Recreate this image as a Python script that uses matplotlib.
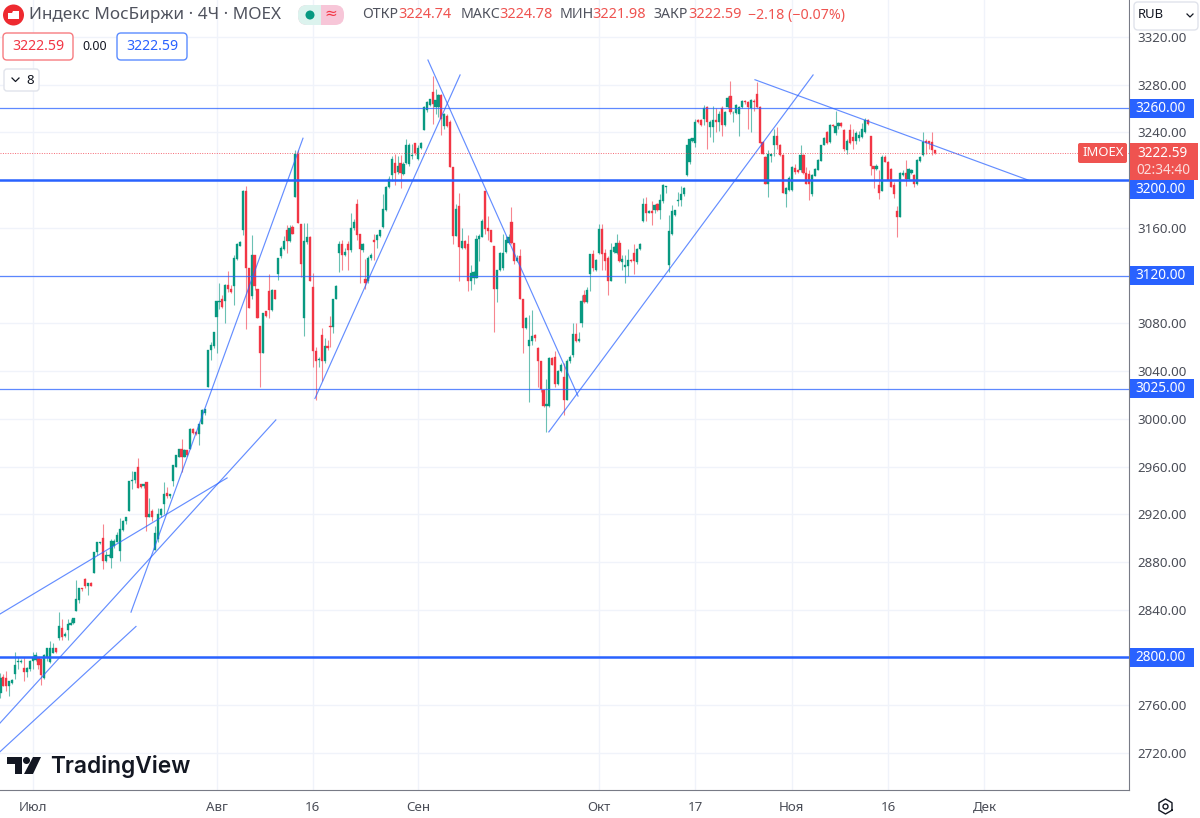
import numpy as np
import matplotlib
matplotlib.use("Agg")
import matplotlib.pyplot as plt
from matplotlib.patches import FancyBboxPatch, Rectangle, Circle, Polygon

plt.rcParams['font.family'] = ['Noto Sans', 'DejaVu Sans']

opens = [
    2770, 2784, 2783, 2776, 2779, 2786, 2796, 2796, 2791, 2788,
    2790, 2797, 2798, 2800, 2799, 2783, 2800, 2796, 2804, 2808,
    2816, 2825, 2818, 2823, 2827, 2829, 2839, 2848, 2858, 2866,
    2860, 2862, 2871, 2888, 2896, 2900, 2881, 2885, 2883, 2893,
    2897, 2889, 2907, 2914, 2923, 2948, 2949, 2960, 2945, 2944,
    2947, 2918, 2923, 2890, 2899, 2919, 2929, 2938, 2935, 2948,
    2960, 2968, 2975, 2968, 2974, 2975, 2991, 2989, 2987, 2996,
    3005, 3027, 3058, 3061, 3085, 3098, 3100, 3099, 3112, 3109,
    3111, 3134, 3145, 3158, 3191, 3126, 3103, 3137, 3109, 3078,
    3055, 3090, 3107, 3091, 3108, 3121, 3136, 3142, 3158, 3149,
    3161, 3186, 3222, 3163, 3084, 3148, 3152, 3110, 3057, 3049,
    3070, 3048, 3061, 3078, 3077, 3100, 3139, 3146, 3137, 3146,
    3141, 3160, 3180, 3155, 3141, 3117, 3115, 3135, 3150, 3150,
    3153, 3161, 3175, 3194, 3204, 3214, 3207, 3214, 3205, 3214,
    3213, 3220, 3231, 3218, 3227, 3242, 3259, 3263, 3274, 3261,
    3261, 3271, 3245, 3254, 3249, 3211, 3153, 3178, 3143, 3149,
    3146, 3115, 3118, 3118, 3151, 3152, 3191, 3160, 3158, 3145,
    3109, 3125, 3126, 3140, 3147, 3165, 3147, 3132, 3136, 3100,
    3076, 3061, 3065, 3070, 3059, 3048, 3024, 3011, 3011, 3051,
    3052, 3029, 3040, 3035, 3016, 3048, 3053, 3071, 3065, 3080,
    3104, 3098, 3121, 3138, 3125, 3139, 3159, 3139, 3135, 3115,
    3140, 3139, 3147, 3131, 3127, 3128, 3133, 3139, 3131, 3142,
    3166, 3180, 3172, 3174, 3175, 3180, 3175, 3182, 3194, 3129,
    3155, 3171, 3182, 3183, 3188, 3204, 3215, 3233, 3231, 3250,
    3250, 3251, 3261, 3244, 3244, 3250, 3249, 3260, 3246, 3261,
    3270, 3256, 3256, 3255, 3261, 3266, 3265, 3260, 3266, 3272,
    3261, 3232, 3219, 3197, 3220, 3229, 3237, 3229, 3221, 3188,
    3192, 3192, 3210, 3208, 3208, 3221, 3206, 3205, 3188, 3203,
    3208, 3216, 3229, 3240, 3232, 3246, 3239, 3245, 3248, 3242,
    3225, 3242, 3236, 3233, 3235, 3236, 3240, 3250, 3237, 3212,
    3209, 3196, 3191, 3219, 3215, 3209, 3196, 3174, 3169, 3204,
    3206, 3201, 3206, 3204, 3197, 3216, 3221, 3233, 3233, 3232,
    3224.74,
]
highs = [
    2787, 2786, 2789, 2780, 2782, 2805, 2800, 2799, 2800, 2792,
    2798, 2805, 2805, 2800, 2799, 2803, 2808, 2814, 2812, 2808,
    2838, 2832, 2821, 2832, 2832, 2833, 2865, 2858, 2858, 2867,
    2862, 2863, 2888, 2897, 2897, 2912, 2889, 2887, 2899, 2899,
    2905, 2917, 2915, 2918, 2948, 2956, 2955, 2967, 2945, 2945,
    2947, 2934, 2924, 2910, 2925, 2925, 2947, 2943, 2937, 2961,
    2970, 2975, 2983, 2975, 2974, 2992, 2992, 2990, 2996, 3008,
    3008, 3058, 3064, 3073, 3099, 3114, 3104, 3113, 3124, 3112,
    3137, 3147, 3149, 3192, 3195, 3126, 3154, 3137, 3109, 3078,
    3089, 3090, 3121, 3109, 3108, 3135, 3145, 3153, 3162, 3162,
    3162, 3225, 3225, 3163, 3164, 3164, 3153, 3122, 3060, 3052,
    3076, 3068, 3066, 3086, 3100, 3112, 3149, 3150, 3143, 3149,
    3172, 3167, 3184, 3155, 3147, 3134, 3136, 3139, 3155, 3155,
    3158, 3188, 3195, 3203, 3220, 3222, 3220, 3221, 3215, 3234,
    3231, 3230, 3231, 3229, 3232, 3262, 3266, 3268, 3287, 3276,
    3272, 3272, 3256, 3255, 3250, 3211, 3180, 3189, 3160, 3150,
    3154, 3129, 3124, 3154, 3155, 3167, 3191, 3170, 3158, 3145,
    3125, 3140, 3155, 3153, 3155, 3177, 3147, 3137, 3142, 3100,
    3085, 3087, 3091, 3071, 3060, 3048, 3024, 3033, 3052, 3052,
    3057, 3041, 3047, 3047, 3050, 3053, 3080, 3080, 3073, 3104,
    3108, 3110, 3138, 3141, 3134, 3163, 3163, 3142, 3136, 3147,
    3145, 3155, 3150, 3137, 3137, 3142, 3134, 3146, 3143, 3147,
    3185, 3186, 3175, 3182, 3180, 3181, 3188, 3197, 3195, 3171,
    3179, 3175, 3190, 3195, 3194, 3229, 3235, 3235, 3251, 3251,
    3251, 3263, 3262, 3250, 3262, 3260, 3258, 3262, 3258, 3270,
    3283, 3258, 3264, 3262, 3267, 3267, 3266, 3268, 3268, 3282,
    3262, 3233, 3220, 3225, 3222, 3243, 3244, 3230, 3222, 3194,
    3203, 3212, 3213, 3209, 3229, 3222, 3211, 3208, 3205, 3210,
    3218, 3229, 3236, 3241, 3247, 3247, 3258, 3249, 3249, 3243,
    3234, 3247, 3243, 3241, 3241, 3248, 3252, 3251, 3237, 3212,
    3213, 3208, 3221, 3221, 3216, 3210, 3198, 3178, 3207, 3208,
    3217, 3210, 3209, 3205, 3218, 3220, 3240, 3234, 3233, 3240,
    3224.78,
]
lows = [
    2766, 2776, 2772, 2768, 2778, 2782, 2790, 2795, 2780, 2784,
    2789, 2790, 2797, 2790, 2777, 2782, 2797, 2795, 2804, 2804,
    2815, 2815, 2817, 2815, 2827, 2828, 2839, 2846, 2856, 2858,
    2852, 2860, 2871, 2886, 2895, 2874, 2880, 2884, 2875, 2892,
    2897, 2881, 2906, 2912, 2923, 2941, 2946, 2942, 2942, 2942,
    2906, 2918, 2914, 2890, 2897, 2918, 2920, 2934, 2934, 2944,
    2960, 2968, 2955, 2968, 2969, 2975, 2987, 2986, 2978, 2996,
    3003, 3027, 3049, 3059, 3055, 3092, 3093, 3080, 3106, 3105,
    3095, 3133, 3145, 3154, 3075, 3093, 3100, 3108, 3084, 3027,
    3055, 3085, 3084, 3090, 3100, 3116, 3135, 3141, 3139, 3148,
    3155, 3186, 3164, 3119, 3069, 3146, 3115, 3043, 3016, 3043,
    3032, 3047, 3058, 3060, 3072, 3100, 3123, 3125, 3136, 3125,
    3140, 3158, 3150, 3114, 3140, 3109, 3114, 3133, 3133, 3143,
    3152, 3160, 3174, 3193, 3199, 3196, 3205, 3193, 3204, 3213,
    3212, 3218, 3221, 3217, 3226, 3242, 3257, 3262, 3247, 3255,
    3253, 3238, 3243, 3244, 3211, 3146, 3153, 3115, 3142, 3142,
    3107, 3108, 3113, 3118, 3132, 3152, 3155, 3150, 3148, 3073,
    3098, 3124, 3125, 3139, 3146, 3146, 3130, 3131, 3100, 3055,
    3075, 3014, 3062, 3065, 3027, 3022, 3010, 2989, 3010, 3045,
    3027, 3028, 3039, 3003, 3016, 3047, 3052, 3064, 3064, 3077,
    3097, 3097, 3107, 3124, 3124, 3138, 3125, 3125, 3104, 3115,
    3139, 3138, 3131, 3125, 3114, 3120, 3131, 3121, 3130, 3141,
    3165, 3166, 3172, 3162, 3172, 3174, 3167, 3181, 3189, 3123,
    3154, 3170, 3178, 3178, 3187, 3203, 3213, 3232, 3228, 3248,
    3245, 3246, 3226, 3236, 3232, 3240, 3241, 3237, 3245, 3260,
    3255, 3249, 3255, 3237, 3260, 3264, 3243, 3240, 3258, 3260,
    3231, 3222, 3197, 3186, 3215, 3220, 3226, 3220, 3189, 3177,
    3191, 3191, 3205, 3206, 3207, 3205, 3197, 3183, 3187, 3203,
    3208, 3216, 3229, 3230, 3231, 3244, 3238, 3243, 3244, 3224,
    3222, 3230, 3226, 3230, 3233, 3235, 3239, 3246, 3204, 3193,
    3208, 3184, 3191, 3215, 3200, 3194, 3185, 3152, 3169, 3203,
    3195, 3200, 3205, 3194, 3196, 3215, 3220, 3222, 3226, 3221,
    3221.98,
]
closes = [
    2783, 2776, 2776, 2780, 2781, 2794, 2797, 2797, 2788, 2791,
    2797, 2800, 2802, 2794, 2785, 2802, 2808, 2808, 2808, 2805,
    2826, 2817, 2820, 2828, 2829, 2833, 2849, 2858, 2857, 2860,
    2862, 2860, 2888, 2897, 2897, 2881, 2886, 2886, 2898, 2898,
    2903, 2908, 2914, 2918, 2948, 2949, 2955, 2942, 2943, 2945,
    2918, 2920, 2918, 2904, 2920, 2924, 2937, 2935, 2937, 2961,
    2970, 2975, 2968, 2974, 2970, 2991, 2988, 2987, 2996, 3007,
    3008, 3058, 3062, 3073, 3099, 3099, 3094, 3112, 3109, 3106,
    3135, 3146, 3148, 3191, 3126, 3093, 3137, 3111, 3084, 3055,
    3089, 3086, 3091, 3108, 3100, 3135, 3143, 3149, 3149, 3160,
    3155, 3222, 3164, 3130, 3149, 3152, 3115, 3057, 3048, 3050,
    3048, 3061, 3059, 3077, 3100, 3111, 3146, 3137, 3140, 3141,
    3160, 3165, 3154, 3142, 3146, 3114, 3135, 3137, 3148, 3154,
    3158, 3176, 3194, 3201, 3218, 3206, 3212, 3206, 3213, 3229,
    3229, 3221, 3223, 3227, 3231, 3261, 3265, 3268, 3264, 3267,
    3271, 3251, 3255, 3245, 3211, 3153, 3176, 3144, 3149, 3143,
    3115, 3122, 3123, 3151, 3153, 3166, 3159, 3157, 3148, 3109,
    3125, 3139, 3139, 3150, 3152, 3147, 3132, 3135, 3100, 3076,
    3084, 3066, 3069, 3068, 3048, 3025, 3011, 3012, 3051, 3045,
    3029, 3040, 3045, 3016, 3048, 3052, 3071, 3065, 3067, 3099,
    3098, 3108, 3138, 3126, 3133, 3159, 3138, 3132, 3115, 3141,
    3144, 3147, 3132, 3134, 3129, 3133, 3132, 3132, 3142, 3146,
    3180, 3172, 3174, 3172, 3179, 3175, 3183, 3196, 3195, 3157,
    3174, 3175, 3183, 3188, 3193, 3229, 3234, 3235, 3249, 3249,
    3246, 3260, 3249, 3249, 3250, 3249, 3255, 3246, 3257, 3269,
    3257, 3256, 3263, 3261, 3266, 3265, 3261, 3267, 3265, 3261,
    3231, 3222, 3197, 3222, 3222, 3237, 3229, 3221, 3189, 3193,
    3202, 3211, 3207, 3207, 3221, 3206, 3197, 3197, 3204, 3209,
    3217, 3229, 3235, 3231, 3246, 3245, 3245, 3248, 3245, 3226,
    3233, 3231, 3233, 3239, 3238, 3243, 3250, 3247, 3212, 3209,
    3212, 3189, 3219, 3215, 3200, 3194, 3188, 3169, 3206, 3206,
    3201, 3209, 3208, 3197, 3217, 3219, 3232, 3231, 3231, 3225,
    3222.59,
]

date_ticks = [11, 74, 107, 143, 205, 238, 271, 304, 337]
date_labels = ["Июл", "Авг", "16", "Сен", "Окт", "17", "Ноя", "16", "Дек"]
price_ticks = list(range(2720, 3321, 40))
hidden_ticks = [3200, 3120, 2800]

thick_levels = [3200, 2800]
thin_levels = [3260, 3120, 3025]
level_tags = [3260, 3200, 3120, 3025, 2800]

trend_x = [[44.7, 103.6], [-0.2, 77.6], [-0.2, 94.3], [-0.2, 46.4],
           [107.7, 157.4], [146.4, 197.8], [187.8, 278.3], [258.4, 351.9]]
trend_y = [[2838, 3235], [2836.4, 2950.4], [2745, 2999], [2721, 2826],
           [3017, 3288], [3300.5, 3019], [2989, 3288], [3284, 3200]]

last_price = closes[-1]

GREEN = '#089981'
RED = '#f23645'
BLUE = '#2962ff'
TEXT = '#4a4d57'

fig = plt.figure(figsize=(12, 8.18), dpi=100)
ax = fig.add_axes([0, 28 / 818, 1129 / 1200, 790 / 818])

o = np.array(opens)
h = np.array(highs)
l = np.array(lows)
c = np.array(closes)
x = np.arange(len(c))
up = c >= o
colors = np.where(up, GREEN, RED)

ax.set_xlim(-0.17, 386.5)
ax.set_ylim(2689.0, 3350.8)
ax.set_xticks(date_ticks)
ax.set_xticklabels(date_labels)
ax.set_yticks(price_ticks)
ax.set_yticklabels(["" if p in hidden_ticks else f"{p:.2f}" for p in price_ticks])
ax.yaxis.tick_right()
ax.tick_params(axis='both', length=0, labelsize=9.6, labelcolor=TEXT)
ax.tick_params(axis='y', pad=6)
ax.tick_params(axis='x', pad=8)
ax.grid(True, color='#f0f3fa', linewidth=1.0)
ax.set_axisbelow(True)
for side in ['top', 'left']:
    ax.spines[side].set_visible(False)
ax.spines['right'].set_color('#787b86')
ax.spines['bottom'].set_color('#787b86')

ax.vlines(x, l, h, colors=colors, linewidth=0.8, alpha=0.6, zorder=2)
ax.bar(x, np.abs(c - o), bottom=np.minimum(o, c), width=0.74, color=colors,
       edgecolor=colors, linewidth=0.25, zorder=3)

for level in thin_levels:
    ax.axhline(level, color=BLUE, linewidth=0.9, alpha=0.75, zorder=4)
for level in thick_levels:
    ax.axhline(level, color=BLUE, linewidth=1.8, zorder=4)
for tx, ty in zip(trend_x, trend_y):
    ax.plot(tx, ty, color=BLUE, linewidth=0.85, alpha=0.72, zorder=4)
ax.axhline(last_price, color=RED, linewidth=0.7, linestyle=(0, (1, 1.5)), alpha=0.75, zorder=4)

# interface parts around the chart, in screen pixels
ui = fig.add_axes([0, 0, 1, 1], facecolor='none')
ui.set_xlim(0, 1200)
ui.set_ylim(818, 0)
ui.axis('off')


def box(x0, y0, x1, y1, face, edge='none', r=3, lw=1.0):
    ui.add_patch(FancyBboxPatch((x0 + r, y0 + r), x1 - x0 - 2 * r, y1 - y0 - 2 * r,
                                boxstyle=f"round,pad={r},rounding_size={r}",
                                facecolor=face, edgecolor=edge, linewidth=lw))


# price tags on the right
for level in level_tags:
    yy = 818 - ax.transData.transform((0, level))[1]
    # the 3200 tag is pushed under the last price tag
    top = yy if level == 3200 else yy - 9.5
    ui.add_patch(Rectangle((1129.5, top), 64.5, 19, facecolor=BLUE, edgecolor='none'))
    ui.text(1161, top + 9.2, f"{level:.2f}", color='white', fontsize=9.8, fontweight='bold',
            ha='center', va='center')
ui.add_patch(Rectangle((1129.5, 143), 68, 37, facecolor='#ef5350', edgecolor='none'))
ui.text(1163, 153.5, f"{last_price:.2f}", color='white', fontsize=9.8, fontweight='bold',
        ha='center', va='center')
ui.text(1163, 170, "02:34:40", color='#fbdcdc', fontsize=9.8, ha='center', va='center')
box(1078, 143, 1127, 163, '#ef5350', r=2)
ui.text(1103, 153, "IMOEX", color='white', fontsize=9.4, fontweight='medium', ha='center', va='center')

# currency button, the top price label runs under it
ui.add_patch(Rectangle((1130, 0), 70, 33, facecolor='white', edgecolor='none'))
box(1134, 2, 1198, 30, 'white', edge='#e0e3eb', r=4)
ui.text(1138, 15, "RUB", color='#131722', fontsize=9.4, va='center')
ui.plot([1187, 1190, 1193], [14, 17, 14], color='#131722', linewidth=0.9)

# header row
ui.add_patch(Circle((13.5, 15), 10.5, facecolor='#ee2a30', edgecolor='none'))
ui.add_patch(Polygon([(8, 13), (12, 13), (13, 11), (19, 11), (19, 19), (8, 19)], facecolor='white'))
ui.text(29, 15, "Индекс МосБиржи · 4Ч · MOEX", color='#50535e', fontsize=12.3, va='center')
box(298, 5, 344, 25, '#f7c6d8', r=9)
box(298, 5, 330, 25, '#dcf3ee', r=9)
ui.add_patch(Rectangle((321, 5), 9, 20, facecolor='#f7c6d8', edgecolor='none'))
ui.add_patch(Circle((310, 15), 4.5, facecolor=GREEN, edgecolor='none'))
ui.text(331, 14.5, "≈", color='#f23645', fontsize=11, ha='center', va='center')

header_labels = ["ОТКР", "МАКС", "МИН", "ЗАКР"]
header_values = ["3224.74", "3224.78", "3221.98", "3222.59"]
label_x = [362, 461, 560, 653]
value_x = [398, 499.5, 592.5, 688]
for name, val, lx, vx in zip(header_labels, header_values, label_x, value_x):
    ui.text(lx, 15, name, color='#50535e', fontsize=10.2, va='center')
    ui.text(vx, 15, val, color='#ef5350', fontsize=10.4, va='center')
ui.text(748, 15, "−2.18 (−0.07%)", color='#ef5350', fontsize=10.2, va='center')

box(3, 33, 73, 60, 'white', edge='#f77c80', r=4)
ui.text(38, 47, "3222.59", color='#f23645', fontsize=10.2, ha='center', va='center')
ui.text(95, 47, "0.00", color='#131722', fontsize=9, ha='center', va='center')
box(117, 33, 187, 60, 'white', edge='#5b8cff', r=4)
ui.text(152, 47, "3222.59", color=BLUE, fontsize=10.2, ha='center', va='center')
box(4, 69, 39, 91, 'white', edge='#e0e3eb', r=3)
ui.plot([12, 15.5, 19], [78, 81.5, 78], color='#131722', linewidth=0.9)
ui.text(30, 80, "8", color='#131722', fontsize=9.6, ha='center', va='center')

# watermark
ui.add_patch(Polygon([(7, 757), (22, 757), (22, 774), (15, 774), (15, 764), (7, 764)], facecolor='#131722'))
ui.add_patch(Circle((26.5, 760.5), 3.5, facecolor='#131722'))
ui.add_patch(Polygon([(33, 757), (41, 757), (33, 774), (24, 774)], facecolor='#131722'))
ui.text(50, 766, "TradingView", color='#131722', fontsize=16.4, fontweight='semibold', va='center',
        family='Inter')

# settings icon bottom right
hex_t = np.linspace(0, 2 * np.pi, 7) + np.pi / 6
ui.plot(1165.5 + 7.5 * np.cos(hex_t), 806.5 + 7.5 * np.sin(hex_t), color='#131722', linewidth=1.0)
ui.add_patch(Circle((1165.5, 806.5), 2.5, facecolor='none', edgecolor='#131722', linewidth=1.0))

fig.savefig("out.png", dpi=100)
